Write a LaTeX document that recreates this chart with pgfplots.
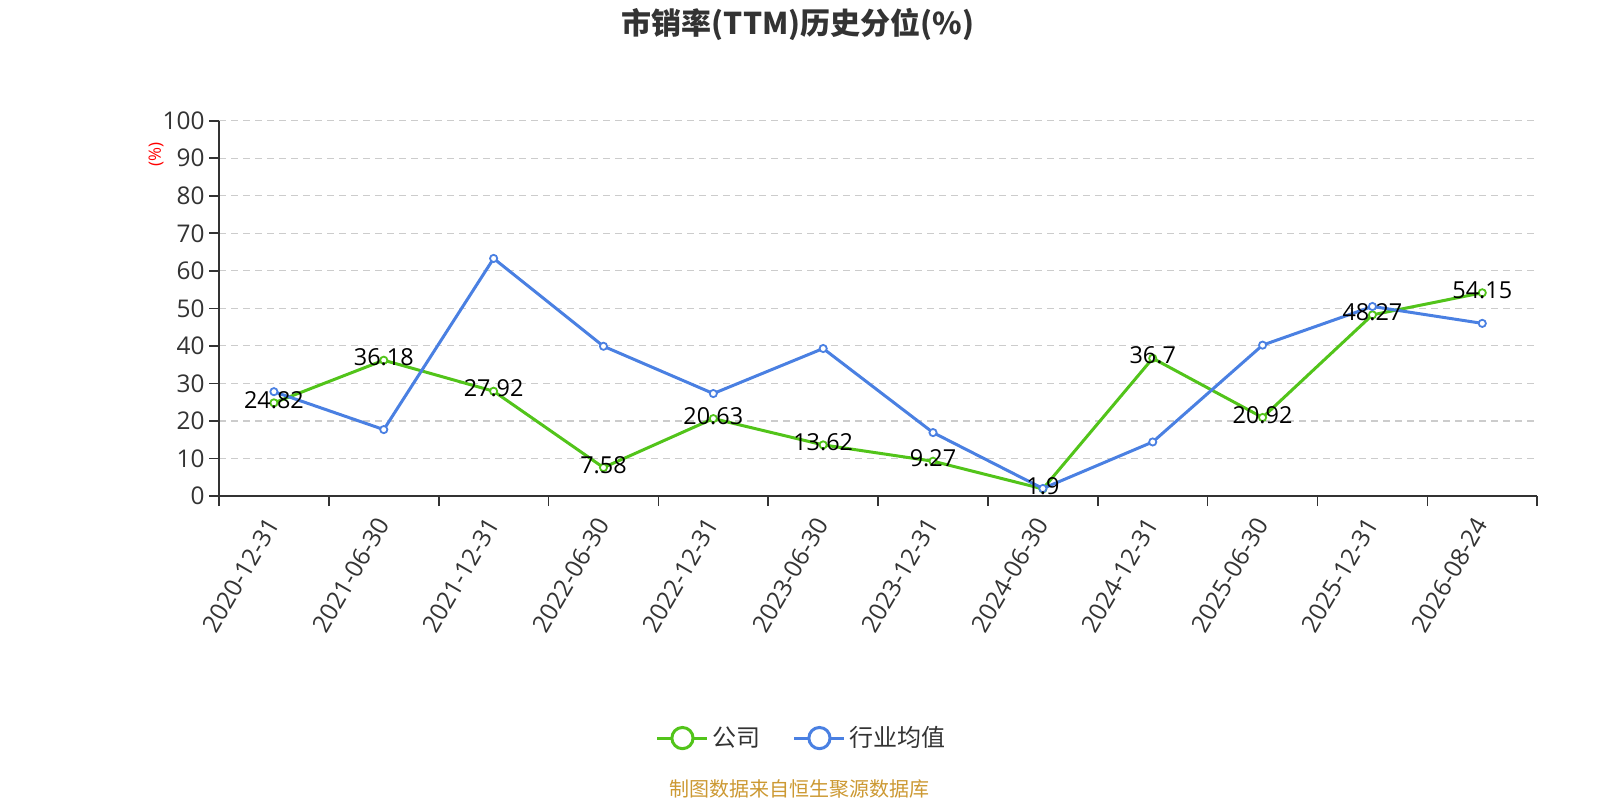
\documentclass[border=0pt]{standalone}
\usepackage{fontspec}
\setmainfont{Open Sans}
\newfontfamily\cjk{Noto Sans CJK SC}
\usepackage{pgfplots}
\pgfplotsset{compat=1.18}
\definecolor{cgreen}{RGB}{82,196,26}
\definecolor{cblue}{RGB}{74,128,226}
\definecolor{ctext}{RGB}{51,51,51}
\definecolor{cgrid}{RGB}{204,204,204}
\definecolor{csrc}{RGB}{204,153,51}
\begin{document}
\begin{tikzpicture}
\path[use as bounding box] (0pt,0pt) rectangle (800pt,400pt);
\node[font=\cjk\bfseries\fontsize{15}{17}\selectfont, text=ctext] at (399pt,388pt) {市销率(TTM)历史分位(\%)};
\node[font=\cjk\fontsize{10}{12}\selectfont, text=csrc] at (399.75pt,5.5pt) {制图数据来自恒生聚源数据库};
\begin{axis}[
  at={(109.5pt,152pt)}, anchor=south west,
  width=659.1pt, height=187.65pt, scale only axis,
  xmin=-0.5, xmax=11.5, ymin=0, ymax=100,
  clip=false,
  /pgf/number format/assume math mode=true,
  axis x line*=bottom, axis y line*=left,
  axis line style={color=ctext, line width=0.8pt, -},
  tick align=outside,
  xtick={0,...,11},
  xticklabels={2020-12-31,2021-06-30,2021-12-31,2022-06-30,2022-12-31,2023-06-30,2023-12-31,2024-06-30,2024-12-31,2025-06-30,2025-12-31,2026-08-24},
  major x tick style={draw=none},
  minor xtick={-0.5,0.5,...,11.5},
  minor x tick style={color=ctext, line width=0.8pt},
  minor tick length=5pt,
  ytick={0,10,...,100},
  major y tick style={color=ctext, line width=0.8pt},
  major tick length=5pt,
  ymajorgrids,
  major y grid style={color=cgrid, line width=0.6pt, dash pattern=on 3.5pt off 2.5pt},
  tick label style={font=\fontsize{12.2}{14}\selectfont, text=ctext},
  xticklabel style={rotate=60, anchor=east, inner sep=1pt, yshift=-3pt, xshift=-5pt},
  yticklabel style={anchor=east, inner sep=1pt, xshift=-1pt},
  legend style={at={(0.443,-0.645)}, anchor=center, draw=none, fill=none,
    font=\cjk\fontsize{12}{14}\selectfont, text=ctext,
    /tikz/every even column/.append style={column sep=14pt}},
  legend columns=2,
  legend image code/.code={%
    \draw[#1, mark=none, line width=1.5pt] (0pt,0pt) -- (25pt,0pt);
    \draw[#1, mark=none, line width=1.5pt, fill=white] (12.5pt,0pt) circle (5.3pt);},
]
\addplot[cgreen, line width=1.5pt, mark=*, mark size=1.8pt, mark options={fill=white, line width=0.9pt}] coordinates {
(0,24.82) (1,36.18) (2,27.92) (3,7.58) (4,20.63) (5,13.62) (6,9.27) (7,1.9) (8,36.7) (9,20.92) (10,48.27) (11,54.15)};
\addlegendentry{公司}
\addplot[cblue, line width=1.5pt, mark=*, mark size=1.8pt, mark options={fill=white, line width=0.9pt}] coordinates {
(0,27.8) (1,17.7) (2,63.3) (3,39.9) (4,27.3) (5,39.3) (6,16.9) (7,2.0) (8,14.4) (9,40.2) (10,50.5) (11,46.0)};
\addlegendentry{行业均值}
\addplot[draw=none, mark=none, forget plot, point meta=explicit symbolic,
  nodes near coords,
  every node near coord/.append style={anchor=center, yshift=1.3pt, text=black, font=\fontsize{11.7}{13}\selectfont}] coordinates {
(0,24.82) [24.82] (1,36.18) [36.18] (2,27.92) [27.92] (3,7.58) [7.58] (4,20.63) [20.63] (5,13.62) [13.62] (6,9.27) [9.27] (7,1.9) [1.9] (8,36.7) [36.7] (9,20.92) [20.92] (10,48.27) [48.27] (11,54.15) [54.15]};
\node[red, rotate=90, font=\fontsize{8.5}{10}\selectfont] at (rel axis cs:-0.0478,0.909) {(\%)};
\end{axis}
\end{tikzpicture}
\end{document}
